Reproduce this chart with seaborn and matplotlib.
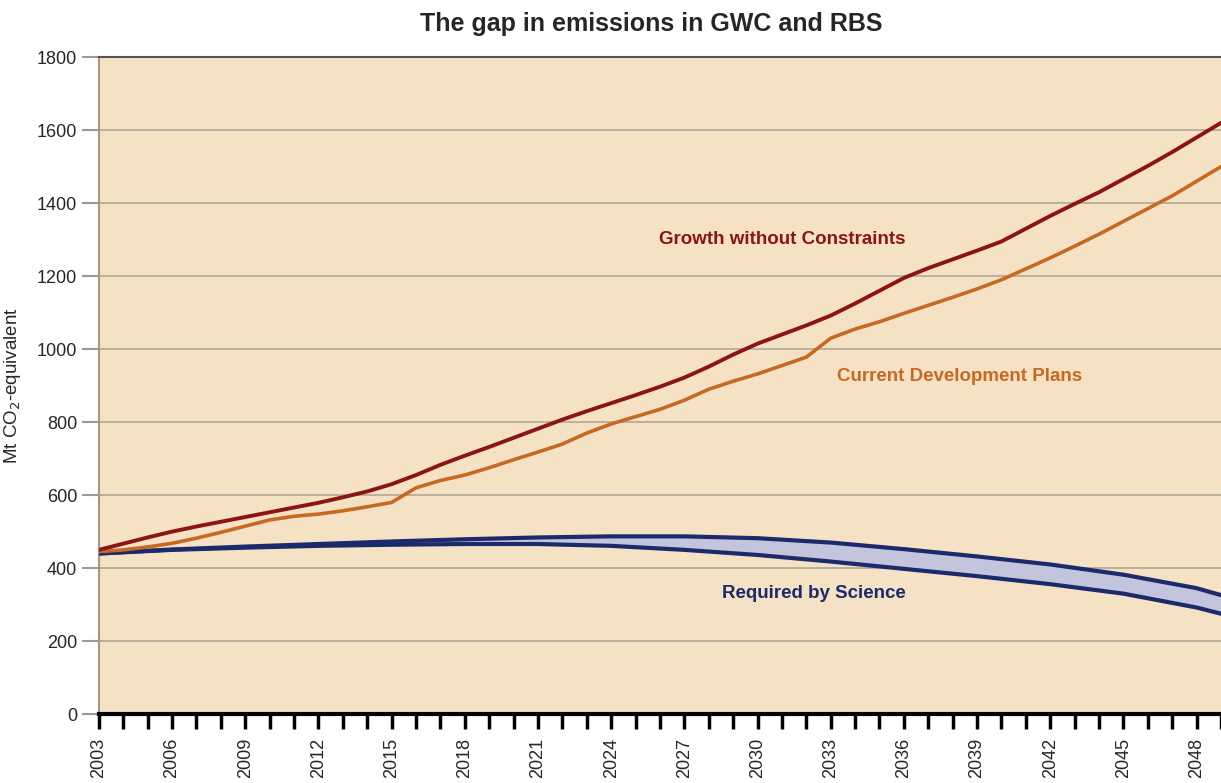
import seaborn as sns
import matplotlib.pyplot as plt
import pandas as pd

# Valori (Mt CO2-echivalent)
years = list(range(2003, 2050))
growth = [450, 467, 484, 500, 514, 527, 540, 553, 566, 579, 594, 610, 630, 655, 683, 708,
          732, 757, 782, 807, 830, 852, 874, 897, 922, 952, 985, 1015, 1040, 1065, 1092, 1125,
          1160, 1195, 1222, 1246, 1270, 1295, 1330, 1365, 1398, 1430, 1466, 1502, 1540, 1580, 1620]
current = [445, 450, 458, 468, 482, 498, 515, 532, 542, 548, 557, 568, 580, 620, 640, 655,
           675, 697, 718, 740, 770, 795, 815, 835, 860, 890, 912, 932, 955, 978, 1030, 1055,
           1075, 1098, 1120, 1142, 1165, 1190, 1220, 1250, 1282, 1315, 1350, 1385, 1420, 1460, 1500]

sci_years = [2003, 2006, 2009, 2012, 2015, 2018, 2021, 2024, 2027, 2030, 2033, 2036, 2039, 2042, 2045, 2048, 2049]
sci_upper = [440, 451, 459, 466, 473, 479, 484, 487, 487, 482, 470, 452, 432, 410, 382, 345, 326]
sci_lower = [440, 450, 456, 461, 464, 466, 466, 461, 450, 436, 418, 398, 378, 356, 330, 292, 275]

tick_years = list(range(2003, 2050, 3))

df = pd.DataFrame({'year': years, 'growth': growth, 'current': current})
sci = pd.DataFrame({'year': sci_years, 'upper': sci_upper, 'lower': sci_lower})

sns.set_style('white')
plt.rcParams['font.family'] = ['Liberation Sans', 'DejaVu Sans']

fig = plt.figure(figsize=(12.21, 7.83), dpi=100)
ax = fig.add_axes([0.081, 0.088, 0.919, 0.839])
ax.set_facecolor('#F5E2C4')

red = '#8B1414'
orange = '#C66A22'
blue = '#1C2A6C'

ax.fill_between(sci['year'], sci['lower'], sci['upper'], color='#C3C5DD', zorder=2)
sns.lineplot(data=sci, x='year', y='upper', color=blue, linewidth=3, ax=ax, zorder=3)
sns.lineplot(data=sci, x='year', y='lower', color=blue, linewidth=3, ax=ax, zorder=3)
sns.lineplot(data=df, x='year', y='current', color=orange, linewidth=2.6, ax=ax, zorder=4)
sns.lineplot(data=df, x='year', y='growth', color=red, linewidth=2.8, ax=ax, zorder=5)

ax.set_xlim(2003, 2049)
ax.set_ylim(0, 1800)
ax.set_yticks(range(0, 1801, 200))
ax.yaxis.grid(True, color='#B0A898', linewidth=1.2, zorder=1)
ax.xaxis.grid(False)

ax.set_xticks(range(2003, 2050), minor=True)
ax.set_xticks(tick_years)
ax.set_xticklabels([str(y) for y in tick_years], rotation=90, fontsize=13)
ax.tick_params(axis='x', which='both', direction='out', length=11, width=2.5,
               color='black', bottom=True, pad=6)
ax.tick_params(axis='y', direction='out', length=12, width=1.5, color='#999999',
               left=True, labelsize=13)

ax.spines['bottom'].set_color('black')
ax.spines['bottom'].set_linewidth(3)
ax.spines['left'].set_color('#A09888')
ax.spines['left'].set_linewidth(1.5)
ax.spines['top'].set_color('#555555')
ax.spines['top'].set_linewidth(1.5)
ax.spines['right'].set_visible(False)

ax.set_xlabel('')
ax.set_ylabel('Mt CO$_2$-equivalent', fontsize=13.5, labelpad=10)

ax.text(2031.0, 1300, 'Growth without Constraints', color=red, fontsize=13.5,
        fontweight='bold', ha='center', va='center')
ax.text(2038.3, 925, 'Current Development Plans', color=orange, fontsize=13.5,
        fontweight='bold', ha='center', va='center')
ax.text(2032.3, 330, 'Required by Science', color=blue, fontsize=13.5,
        fontweight='bold', ha='center', va='center')

fig.suptitle('The gap in emissions in GWC and RBS', fontsize=18, fontweight='bold',
             y=0.985, x=0.533)

fig.savefig('out.png', dpi=100)
